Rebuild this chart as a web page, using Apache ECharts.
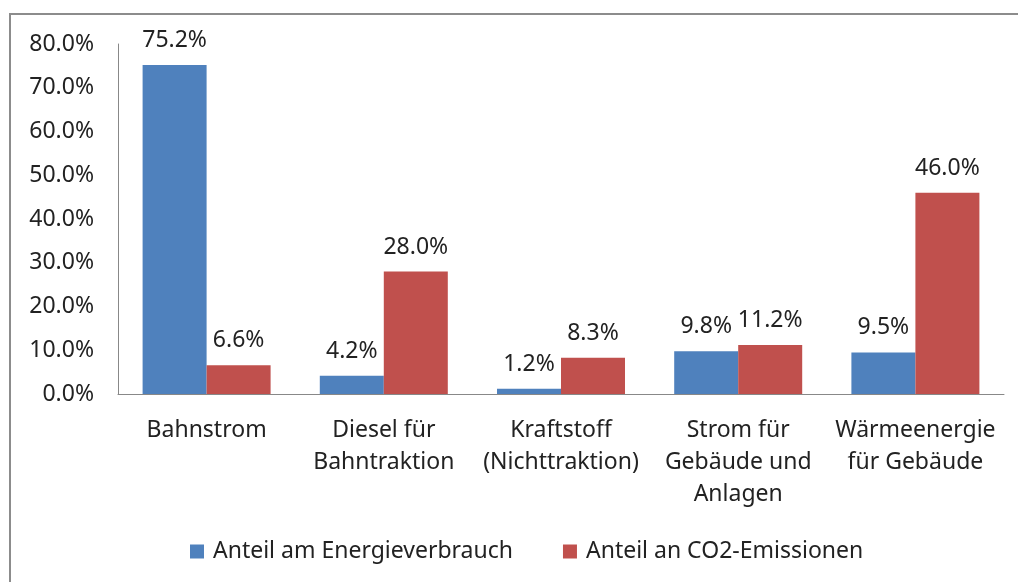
<!DOCTYPE html>
<html>
<head>
<meta charset="utf-8">
<script src="https://cdn.jsdelivr.net/npm/echarts@6/dist/echarts.min.js"></script>
<style>
  html, body { margin: 0; padding: 0; background: #fff; }
  #wrap { position: relative; width: 1018px; height: 582px; overflow: hidden; }
  /* outer frame of the chart, cut off at the right and bottom */
  #frame {
    position: absolute; left: 9px; top: 13px; width: 1100px; height: 700px;
    border-top: 2px solid #8c8c8c; border-left: 2px solid #8c8c8c;
  }
  #chart { position: absolute; left: 0; top: 0; width: 1018px; height: 582px; }
</style>
</head>
<body>
<div id="wrap">
  <div id="frame"></div>
  <div id="chart"></div>
</div>
<script>
// Kategorien
const categories = [
  'Bahnstrom',
  'Diesel für\nBahntraktion',
  'Kraftstoff\n(Nichttraktion)',
  'Strom für\nGebäude und\nAnlagen',
  'Wärmeenergie\nfür Gebäude'
];
// Anteil am Energieverbrauch (%)
const energyShare = [75.2, 4.2, 1.2, 9.8, 9.5];
// Anteil an CO2-Emissionen (%)
const co2Share = [6.6, 28.0, 8.3, 11.2, 46.0];
const seriesNames = ['Anteil am Energieverbrauch', 'Anteil an CO2-Emissionen'];

const font = 'Noto Sans';
const fontSize = 23;
const myChart = echarts.init(document.getElementById('chart'));

const valueLabel = {
  show: true,
  position: 'top',
  distance: 13,
  color: '#222',
  fontFamily: font,
  fontSize: fontSize,
  formatter: p => p.value.toFixed(1) + '%'
};

const option = {
  animation: false,
  grid: { left: 118, right: 14, top: 44, bottom: 188, containLabel: false },
  legend: {
    bottom: 14,
    left: 185,
    itemWidth: 14,
    itemHeight: 14,
    itemGap: 50,
    icon: 'rect',
    textStyle: { fontFamily: font, fontSize: fontSize, color: '#222', padding: [0, 0, 0, 4] },
    data: seriesNames
  },
  xAxis: {
    type: 'category',
    data: categories,
    axisTick: { show: false },
    axisLine: { lineStyle: { color: '#888', width: 1 } },
    axisLabel: {
      interval: 0,
      margin: 20,
      color: '#222',
      fontFamily: font,
      fontSize: fontSize,
      lineHeight: 32
    }
  },
  yAxis: {
    type: 'value',
    min: 0,
    max: 80,
    interval: 10,
    splitLine: { show: false },
    axisTick: { show: false },
    axisLine: { show: true, lineStyle: { color: '#888', width: 1 } },
    axisLabel: {
      margin: 24,
      color: '#222',
      fontFamily: font,
      fontSize: fontSize,
      formatter: v => v.toFixed(1) + '%'
    }
  },
  series: [
    {
      name: seriesNames[0],
      type: 'bar',
      barWidth: 64,
      barGap: '0%',
      itemStyle: { color: '#4F81BD' },
      label: valueLabel,
      data: energyShare
    },
    {
      name: seriesNames[1],
      type: 'bar',
      barWidth: 64,
      barGap: '0%',
      itemStyle: { color: '#C0504D' },
      label: valueLabel,
      data: co2Share
    }
  ]
};

myChart.setOption(option);
</script>
</body>
</html>
